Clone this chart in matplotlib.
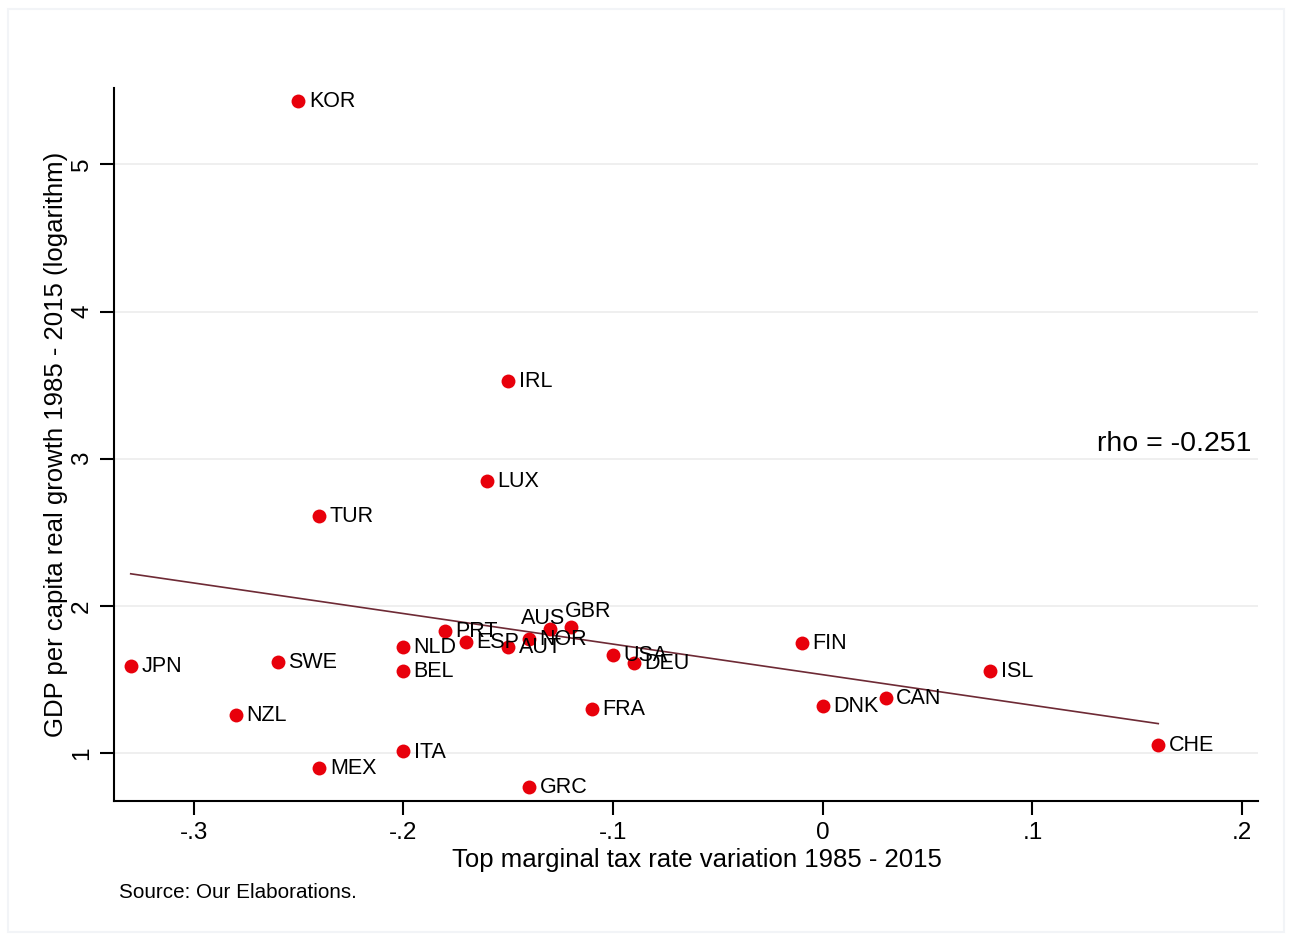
import numpy as np
import matplotlib
matplotlib.use("Agg")
import matplotlib.pyplot as plt
from matplotlib.patches import Rectangle

plt.rcParams["font.family"] = ["Liberation Sans", "DejaVu Sans"]

countries = ["KOR", "IRL", "LUX", "TUR", "JPN", "SWE", "NZL", "MEX", "NLD", "BEL",
             "ITA", "PRT", "ESP", "AUT", "NOR", "AUS", "GBR", "GRC", "USA", "DEU",
             "FRA", "FIN", "DNK", "CAN", "ISL", "CHE"]
tax_var = [-0.25, -0.15, -0.16, -0.24, -0.33, -0.26, -0.28, -0.24, -0.20, -0.20,
           -0.20, -0.18, -0.17, -0.15, -0.14, -0.13, -0.12, -0.14, -0.10, -0.09,
           -0.11, -0.01, 0.00, 0.03, 0.08, 0.16]
gdp_growth = [5.43, 3.53, 2.85, 2.61, 1.59, 1.62, 1.26, 0.90, 1.72, 1.56,
              1.01, 1.83, 1.755, 1.72, 1.775, 1.84, 1.857, 0.77, 1.667, 1.61,
              1.30, 1.75, 1.32, 1.374, 1.56, 1.054]
rho_text = "rho = -0.251"

x = np.array(tax_var)
y = np.array(gdp_growth)

fig = plt.figure(figsize=(12.89, 9.35), dpi=100)
ax = fig.add_axes([0.0884, 0.1433, 0.8876, 0.7627])

# faint outer frame
fig.patches.append(Rectangle((0.006, 0.003), 0.99, 0.987, transform=fig.transFigure,
                             fill=False, edgecolor="#f2f4f7", linewidth=1.5))

for yt in [1, 2, 3, 4, 5]:
    ax.axhline(yt, color="#ececec", linewidth=1.2, zorder=0)

ax.scatter(x, y, s=100, color="#e8000b", zorder=3, linewidths=0)

# linear fit
b, a = np.polyfit(x, y, 1)
xs = np.array([x.min(), x.max()])
ax.plot(xs, a + b * xs, color="#6e2a35", linewidth=1.2, zorder=2)

offsets = {"AUS": (-5, 8, "center"), "GBR": (12, 11, "center")}
for c, xi, yi in zip(countries, x, y):
    if c in offsets:
        dx, dy, ha = offsets[c]
    else:
        dx, dy, ha = 7.5, -0.5, "left"
    ax.annotate(c, (xi, yi), xytext=(dx, dy), textcoords="offset points",
                ha=ha, va="center", fontsize=15.5, zorder=4)

ax.text(0.2045, 3.1, rho_text, ha="right", va="center", fontsize=20.5)

ax.set_xlim(-0.338, 0.2076)
ax.set_ylim(0.673, 5.52)
ax.set_xticks([-0.3, -0.2, -0.1, 0, 0.1, 0.2])
ax.set_xticklabels(["-.3", "-.2", "-.1", "0", ".1", ".2"])
ax.set_yticks([1, 2, 3, 4, 5])
ax.set_yticklabels(["1", "2", "3", "4", "5"], rotation=90, va="center")

for s in ["top", "right"]:
    ax.spines[s].set_visible(False)
ax.spines["left"].set_linewidth(1.5)
ax.spines["bottom"].set_linewidth(1.5)
ax.tick_params(direction="out", length=10, width=1.5, labelsize=17.5, pad=5)

ax.set_xlabel("Top marginal tax rate variation 1985 - 2015", fontsize=18.5)
ax.xaxis.set_label_coords(0.5096, -0.066)
ax.set_ylabel("GDP per capita real growth 1985 - 2015 (logarithm)", fontsize=18.5, labelpad=2)

fig.text(0.0923, 0.04, "Source: Our Elaborations.", fontsize=14.9)

fig.savefig("out.png", dpi=100, facecolor="white")
